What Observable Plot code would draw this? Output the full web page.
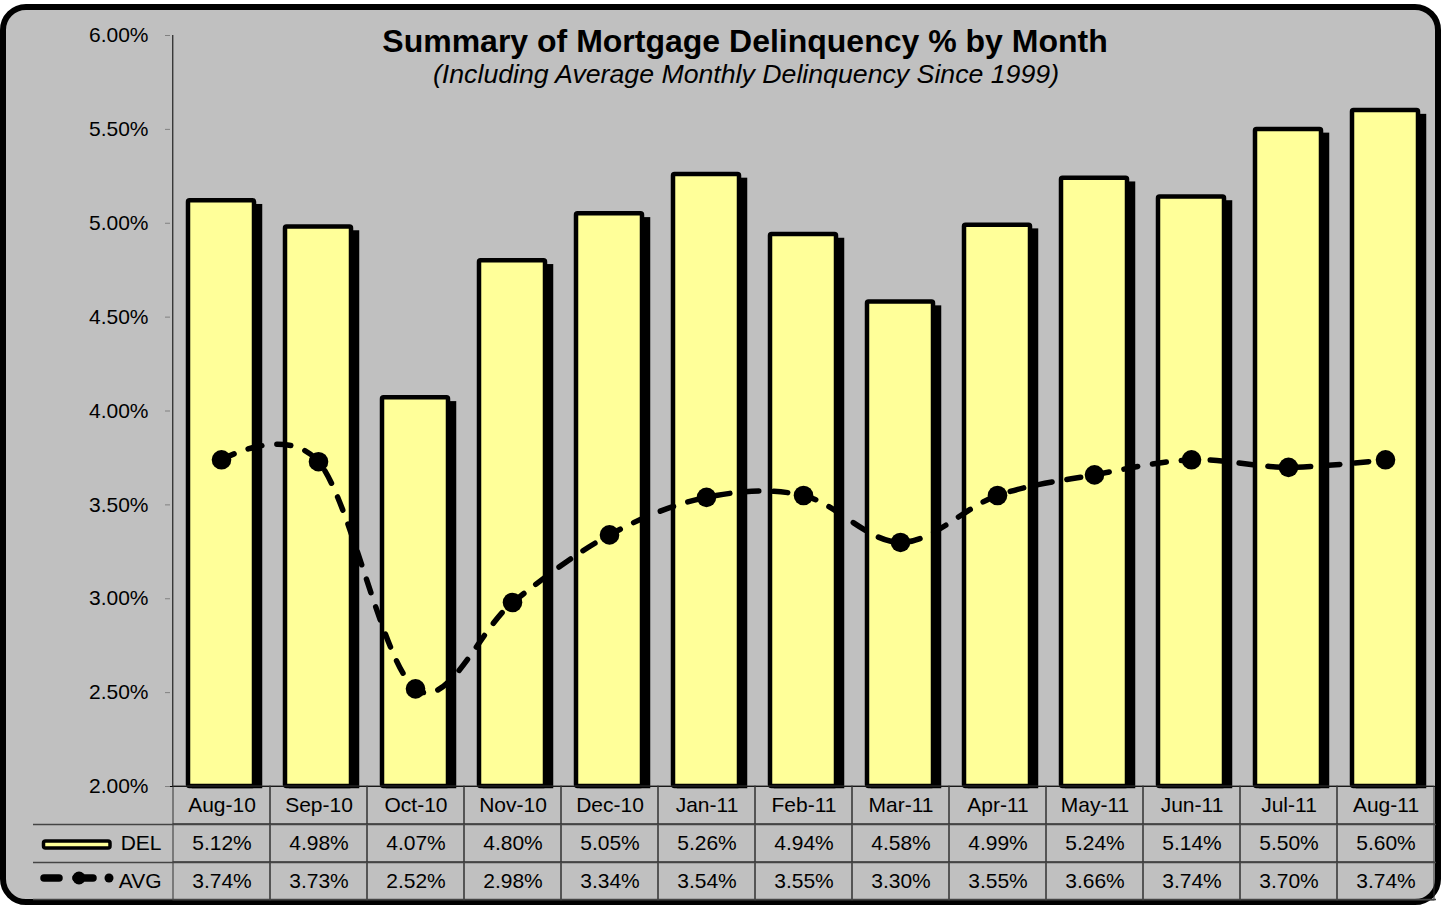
<!DOCTYPE html>
<html><head><meta charset="utf-8">
<script src="https://cdn.jsdelivr.net/npm/d3@7"></script>
<script src="https://cdn.jsdelivr.net/npm/@observablehq/plot@0.6"></script>
<style>
html,body{margin:0;padding:0;background:#fff;}
#wrap{position:relative;width:1442px;height:905px;font-family:"Liberation Sans",Arial,sans-serif;overflow:hidden;}
#box{position:absolute;left:0;top:4px;width:1441px;height:901px;box-sizing:border-box;border:6px solid #000;border-radius:26px;background:#c0c0c0;}
#title{position:absolute;left:0;top:25px;width:1490px;text-align:center;font-size:32px;line-height:32px;font-weight:bold;color:#000;white-space:nowrap;}
#subtitle{position:absolute;left:0;top:61px;width:1492px;text-align:center;font-size:26.7px;line-height:27px;font-style:italic;color:#000;white-space:nowrap;}
#main,#table,#legend{position:absolute;left:0;}
#main{top:0;}
#table{top:786px;}
#legend{top:786px;}
</style></head>
<body>
<div id="wrap">
  <div id="box"></div>
  <div id="main"></div>
  <div id="table"></div>
  <svg id="legend" width="170" height="114">
    <rect x="43.5" y="55" width="66.5" height="7" rx="2" fill="#ffff99" stroke="#000" stroke-width="3.5"/>
    <line x1="44" x2="59" y1="92" y2="92" stroke="#000" stroke-width="7.5" stroke-linecap="round"/>
    <line x1="76" x2="93" y1="92" y2="92" stroke="#000" stroke-width="7.5" stroke-linecap="round"/>
    <circle cx="79" cy="92" r="6.5" fill="#000"/>
    <circle cx="109" cy="92" r="4.5" fill="#000"/>
  </svg>
  <div id="title">Summary of Mortgage Delinquency % by Month</div>
  <div id="subtitle">(Including Average Monthly Delinquency Since 1999)</div>
</div>
<script>
const months = ["Aug-10","Sep-10","Oct-10","Nov-10","Dec-10","Jan-11","Feb-11","Mar-11","Apr-11","May-11","Jun-11","Jul-11","Aug-11"];
const delValues = [5.12,4.98,4.07,4.80,5.05,5.26,4.94,4.58,4.99,5.24,5.14,5.50,5.60];
const avgValues = [3.74,3.73,2.52,2.98,3.34,3.54,3.55,3.30,3.55,3.66,3.74,3.70,3.74];
const yTicks = [2,2.5,3,3.5,4,4.5,5,5.5,6];
const tableRows = ["cat","DEL","AVG"];
const seriesNames = ["DEL","AVG"];

const fmt = v => v.toFixed(2) + "%";
const data = months.map((m,i)=>({month:m, del:delValues[i], avg:avgValues[i]}));

const W = 1442, ML = 170, MR = 6;
const step = (W - ML - MR) / months.length;
const font = '"Liberation Sans", Arial, sans-serif';

const main = Plot.plot({
  width: W, height: 905,
  marginTop: 35, marginBottom: 119, marginLeft: ML, marginRight: MR,
  style: {background: "transparent", fontFamily: font, overflow: "visible", color: "#000"},
  x: {type: "band", domain: months, paddingInner: 0.32, paddingOuter: 0.16, axis: null},
  y: {domain: [2, 6]},
  marks: [
    Plot.barY(data, {x: "month", y1: 2, y2: "del", fill: "#000", stroke: "#000", strokeWidth: 4.5, dx: 6, dy: 6, insetBottom: 6}),
    Plot.barY(data, {x: "month", y1: 2, y2: "del", fill: "#ffff99", stroke: "#000", strokeWidth: 4.5, rx: 1.5}),
    Plot.ruleY([2], {stroke: "#000", strokeWidth: 1}),
    Plot.ruleX([months[0]], {x: d => d, y1: 2, y2: 6, dx: -step/2, stroke: "#000", strokeWidth: 1}),
    Plot.axisY({ticks: yTicks, tickFormat: fmt, tickSize: 5, tickPadding: 17, fontSize: 21, stroke: "#808080", fill: "#000", label: null}),
    Plot.line(data, {x: "month", y: "avg", curve: "cardinal", stroke: "#000", strokeWidth: 5.5, strokeDasharray: "14,15", strokeLinecap: "round"}),
    Plot.dot(data, {x: "month", y: "avg", r: 9.8, fill: "#000"})
  ]
});
document.getElementById("main").appendChild(main);

const cells = [];
tableRows.forEach(r => months.forEach((m,i) => cells.push({
  month: m, row: r,
  text: r === "cat" ? m : r === "DEL" ? fmt(delValues[i]) : fmt(avgValues[i])
})));
const TH = 114, rowH = TH / tableRows.length;

const table = Plot.plot({
  width: W, height: TH,
  marginTop: 0, marginBottom: 0, marginLeft: 33, marginRight: MR,
  style: {background: "transparent", fontFamily: font, overflow: "visible", color: "#000"},
  x: {type: "band", domain: months, range: [ML, W - MR], padding: 0, axis: null},
  y: {type: "band", domain: tableRows, padding: 0, axis: null},
  marks: [
    Plot.cell(cells, {x: "month", y: "row", fill: "none", stroke: "#333", strokeWidth: 1}),
    Plot.ruleY(seriesNames, {y: d => d, dy: -rowH/2, stroke: "#444", strokeWidth: 1.5}),
    Plot.ruleY(["AVG"], {y: d => d, dy: rowH/2 - 1, stroke: "#444", strokeWidth: 1.5}),
    Plot.ruleX(seriesNames, {x: () => months[0], y: d => d, dx: 33 - ML - step/2, stroke: "#333", strokeWidth: 1}),
    Plot.text(cells, {x: "month", y: "row", text: "text", fontSize: 21, fill: "#000"}),
    Plot.text(seriesNames, {y: d => d, text: d => d, frameAnchor: "left", dx: 128, textAnchor: "end", fontSize: 21, fill: "#000"})
  ]
});
document.getElementById("table").appendChild(table);
</script>
</body></html>
